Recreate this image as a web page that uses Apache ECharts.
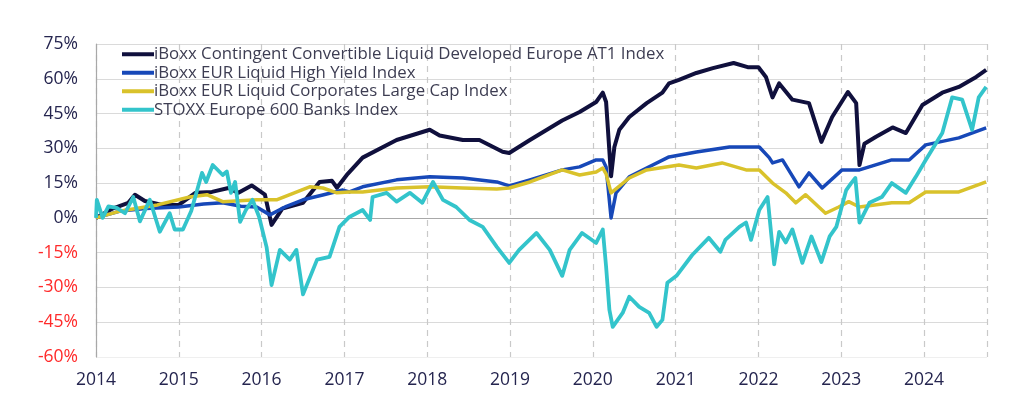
<!DOCTYPE html>
<html>
<head>
<meta charset="utf-8">
<script src="https://cdn.jsdelivr.net/npm/echarts@6/dist/echarts.min.js"></script>
<style>
html,body{margin:0;padding:0;background:#fff;}
#chart{width:1024px;height:396px;}
</style>
</head>
<body>
<div id="chart"></div>
<script>
// Series names
var seriesNames = [
  'iBoxx Contingent Convertible Liquid Developed Europe AT1 Index',
  'iBoxx EUR Liquid High Yield Index',
  'iBoxx EUR Liquid Corporates Large Cap Index',
  'STOXX Europe 600 Banks Index'
];
// [decimal year, % return]
var at1Data = [[2014.00,0],[2014.20,4],[2014.39,6.5],[2014.47,10],[2014.59,7.3],[2014.80,5.6],[2015.00,5.6],[2015.20,10.8],[2015.40,11.2],[2015.60,12.9],[2015.72,10.8],[2015.88,14],[2016.04,10],[2016.12,-3],[2016.25,4],[2016.50,6.5],[2016.70,15.5],[2016.85,16],[2016.91,13],[2017.04,19],[2017.22,26],[2017.63,33.6],[2018.03,38],[2018.15,35.5],[2018.43,33.6],[2018.63,33.6],[2018.91,28.5],[2018.99,28],[2019.24,33.6],[2019.63,42],[2019.84,45.7],[2020.04,50],[2020.12,54],[2020.16,50],[2020.22,18],[2020.26,30.6],[2020.32,38],[2020.44,43.5],[2020.65,49.5],[2020.84,54],[2020.92,58],[2021.04,59.5],[2021.25,62.5],[2021.45,64.6],[2021.70,66.8],[2021.87,65],[2022.00,65],[2022.09,60.8],[2022.17,52],[2022.25,58],[2022.41,51],[2022.61,49.5],[2022.76,32.8],[2022.89,43.5],[2023.08,54.3],[2023.18,49.5],[2023.22,22.8],[2023.28,32],[2023.42,35],[2023.62,39],[2023.78,36.6],[2023.98,48.7],[2024.22,54],[2024.42,56.5],[2024.63,60.8],[2024.75,63.8]];
var hyData = [[2014.00,0],[2014.30,3],[2014.60,4],[2015.00,4.7],[2015.30,6],[2015.53,6.5],[2015.75,5],[2015.94,4.7],[2016.10,1.3],[2016.30,5],[2016.50,7.8],[2016.75,10],[2016.98,12],[2017.06,11.2],[2017.22,13.4],[2017.63,16.4],[2018.03,17.7],[2018.43,17.2],[2018.84,15.5],[2018.99,13.8],[2019.24,16.4],[2019.63,20.7],[2019.84,22],[2020.04,25],[2020.12,25],[2020.16,22],[2020.22,0],[2020.28,10.8],[2020.44,17.7],[2020.65,21.5],[2020.92,26.3],[2021.25,28.4],[2021.65,30.6],[2022.01,30.6],[2022.13,26],[2022.17,23.7],[2022.29,25],[2022.49,13.4],[2022.61,19.4],[2022.77,12.9],[2023.01,20.7],[2023.22,20.7],[2023.61,25],[2023.82,25],[2024.02,31.5],[2024.42,34.5],[2024.75,38.8]];
var igData = [[2014.00,0],[2014.30,3],[2014.74,5.6],[2015.13,9],[2015.34,10],[2015.53,7],[2015.94,7.8],[2016.18,7.8],[2016.58,13.4],[2016.74,12.9],[2016.91,10.8],[2017.06,11.2],[2017.22,11.2],[2017.63,12.9],[2018.03,13.4],[2018.43,12.9],[2018.84,12.5],[2018.99,12.9],[2019.24,15.5],[2019.63,20.7],[2019.84,18.5],[2020.04,19.8],[2020.12,21.5],[2020.16,19],[2020.22,10.8],[2020.44,17.2],[2020.65,20.7],[2021.04,22.8],[2021.25,21.5],[2021.56,23.7],[2021.85,20.7],[2022.01,20.7],[2022.17,15],[2022.33,10.8],[2022.45,6.5],[2022.57,10],[2022.81,2],[2022.97,4.7],[2023.09,7],[2023.22,4.7],[2023.61,6.5],[2023.82,6.5],[2024.02,11.2],[2024.42,11.2],[2024.75,15.5]];
var banksData = [[2014.00,0],[2014.01,7.8],[2014.08,0],[2014.15,5],[2014.25,4.3],[2014.35,2],[2014.45,9],[2014.53,-1.5],[2014.65,7.8],[2014.77,-6],[2014.89,2],[2014.95,-5],[2015.05,-5],[2015.15,3],[2015.28,19.4],[2015.33,15.5],[2015.41,22.8],[2015.53,18.5],[2015.58,20],[2015.63,10.8],[2015.68,15.5],[2015.74,-1.7],[2015.81,3.4],[2015.89,7.8],[2015.97,0.4],[2016.06,-12.6],[2016.12,-29],[2016.22,-13.8],[2016.34,-18],[2016.42,-13.8],[2016.50,-33],[2016.67,-18],[2016.82,-16.8],[2016.94,-3.9],[2017.06,0.4],[2017.22,3.4],[2017.31,-0.9],[2017.34,9],[2017.51,10.8],[2017.63,7],[2017.79,10.8],[2017.94,6.5],[2018.07,15.5],[2018.19,7.8],[2018.35,4.7],[2018.51,-0.9],[2018.67,-3.9],[2018.84,-12.5],[2018.99,-19.4],[2019.11,-13.8],[2019.32,-6.5],[2019.48,-13.8],[2019.63,-25],[2019.72,-13.8],[2019.87,-6.5],[2020.04,-10.8],[2020.12,-5],[2020.16,-21],[2020.20,-39.7],[2020.24,-47],[2020.36,-41],[2020.44,-34],[2020.56,-38.4],[2020.68,-41],[2020.77,-47],[2020.84,-44],[2020.90,-28],[2021.01,-25],[2021.20,-16],[2021.40,-8.6],[2021.54,-14.6],[2021.60,-9.5],[2021.77,-3.9],[2021.85,-2],[2021.91,-9.5],[2022.01,3.4],[2022.11,9],[2022.19,-20],[2022.25,-6],[2022.33,-10.6],[2022.41,-5],[2022.53,-19.4],[2022.64,-8],[2022.76,-19],[2022.86,-8],[2022.94,-3.9],[2023.06,12],[2023.12,15],[2023.17,17.2],[2023.22,-2],[2023.34,6.5],[2023.49,9],[2023.61,15],[2023.78,10.8],[2023.90,17.7],[2024.02,25],[2024.22,36.6],[2024.34,52],[2024.46,51],[2024.58,38],[2024.66,52],[2024.75,56.5]];
var yTicks = [-60,-45,-30,-15,0,15,30,45,60,75];

var colors = ['#10103d','#1748b8','#d9c22b','#33c4cb'];
var widths = [4,3.5,3.5,3.8];
var datasets = [at1Data, hyData, igData, banksData];

var chart = echarts.init(document.getElementById('chart'), null, {renderer:'canvas'});
var font = '"Open Sans", "DejaVu Sans", sans-serif';
var splitColors = yTicks.map(function(v){ return v === -60 ? '#efefef' : (v === 0 ? '#a8a8a8' : '#dadada'); });

chart.setOption({
  animation: false,
  backgroundColor: '#ffffff',
  grid: {left: 96, right: 37, top: 44, bottom: 39, containLabel: false},
  legend: {
    orient: 'vertical', left: 117, top: 40,
    itemWidth: 32, itemHeight: 4, itemGap: 0,
    icon: 'rect',
    textStyle: {fontFamily: font, fontSize: 16.8, color: '#3d3d52', lineHeight: 18.5, padding: [0,0,0,-5]},
    data: seriesNames
  },
  xAxis: {
    type: 'value', min: 2014, max: 2024.76, interval: 1,
    axisLine: {show: true, lineStyle: {color: '#a8a8a8', width: 1.2}},
    axisTick: {show: false},
    axisLabel: {
      margin: 14, fontFamily: font, fontSize: 17.5, color: '#25254f',
      formatter: function(v){ return Math.abs(v - Math.round(v)) < 1e-6 ? String(Math.round(v)) : ''; }
    },
    splitLine: {show: true, lineStyle: {color: '#c9c9c9', type: [6,5], width: 1.2}}
  },
  yAxis: {
    type: 'value', min: -60, max: 75, interval: 15,
    axisLine: {show: true, lineStyle: {color: '#a8a8a8', width: 1.2}},
    axisTick: {show: false},
    axisLabel: {
      margin: 18, fontFamily: font, fontSize: 17.5,
      formatter: function(v){ return v + '%'; },
      color: function(v){ return Number(v) < 0 ? '#ff2a2a' : '#25254f'; }
    },
    splitLine: {show: true, lineStyle: {color: splitColors, width: 1.2}}
  },
  series: seriesNames.map(function(name, i){
    return {
      name: name, type: 'line', data: datasets[i],
      showSymbol: false, symbol: 'none',
      lineStyle: {color: colors[i], width: widths[i], join: 'round'},
      itemStyle: {color: colors[i]},
      z: 2 + i
    };
  })
});
</script>
</body>
</html>
